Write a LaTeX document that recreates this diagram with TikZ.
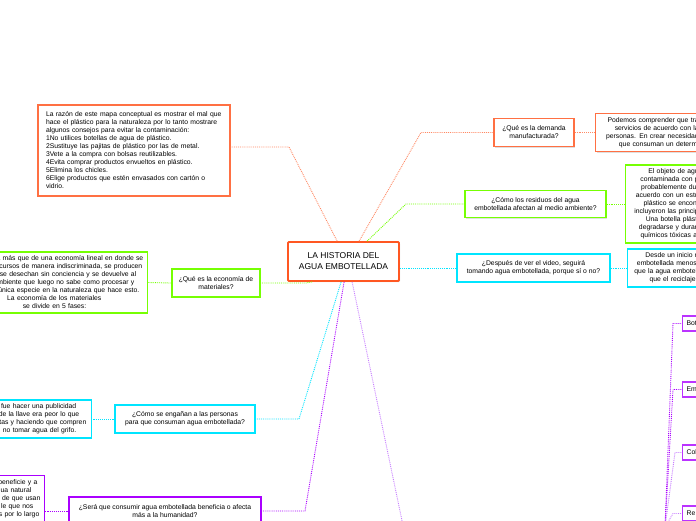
\documentclass[tikz,border=0pt]{standalone}
\usepackage{fontspec}
\setmainfont{Liberation Sans}
\usepackage{tikz}
\usetikzlibrary{shadows,calc}
\definecolor{mapred}{HTML}{FF5722}
\definecolor{maporange}{HTML}{FF7043}
\definecolor{maporangeline}{HTML}{FF8A65}
\definecolor{mapgreen}{HTML}{76FF03}
\definecolor{mapcyan}{HTML}{00E5FF}
\definecolor{mapviolet}{HTML}{AA00FF}
\definecolor{maplilac}{HTML}{C77DFF}
% keeps a fixed gap after a line in a right-aligned note
\newcommand{\trailpad}[1]{\hspace{#1}\mbox{}}
\tikzset{
  mapbox/.style={draw, fill=white, line width=1.4pt, inner sep=4pt, font=\fontsize{6.8}{8}\selectfont, drop shadow={shadow xshift=1pt, shadow yshift=-1pt, opacity=0.25}},
  rootbox/.style={mapbox, draw=mapred, line width=1.8pt, rounded corners=1pt, align=center, minimum width=111pt, minimum height=39pt, font=\fontsize{8.5}{11}\selectfont},
  topicbox/.style={mapbox, align=center, minimum height=28pt},
  rightnote/.style={mapbox, anchor=west, align=right},
  leftnote/.style={mapbox, anchor=east, align=right},
  phasebox/.style={mapbox, draw=mapviolet!80, line width=1.2pt, anchor=west, text width=50pt, align=left, minimum height=15pt, inner xsep=4pt},
  link/.style={densely dotted, line width=0.9pt}
}

\begin{document}
\begin{tikzpicture}[x=1pt, y=-1pt]
  \clip (0,0) rectangle (696,520);
  \fill[white] (0,0) rectangle (696,520);

  % centre
  \node[rootbox] (historia) at (343.5,261.5) {LA HISTORIA DEL\\AGUA EMBOTELLADA};

  % upper branches
  \node[mapbox, draw=maporange, text width=176pt, minimum width=192pt, minimum height=91pt, align=left] (razon) at (134,150.5)
    {La razón de este mapa conceptual es mostrar el mal que\\
     hace el plástico para la naturaleza por lo tanto mostrare\\
     algunos consejos para evitar la contaminación:\\
     1No utilices botellas de agua de plástico.\\
     2Sustituye las pajitas de plástico por las de metal.\\
     3Vete a la compra con bolsas reutilizables.\\
     4Evita comprar productos envueltos en plástico.\\
     5Elimina los chicles.\\
     6Elige productos que estén envasados con cartón o\\
     vidrio.};
  \node[topicbox, draw=maporange, minimum width=80pt] (demanda) at (534,132.5) {¿Qué es la demanda\\manufacturada?};
  \node[rightnote, draw=maporange, text width=99pt, minimum height=38pt] (podemos) at (595,132.5)
    {\mbox{Podemos comprender que tra}\\\mbox{servicios de acuerdo con la}\\\mbox{personas. En crear necesidad}\\\mbox{que consuman un determi}};
  \node[topicbox, draw=mapgreen, minimum width=141pt, minimum height=27pt] (residuos) at (535.5,204) {¿Cómo los residuos del agua\\embotellada afectan al medio ambiente?};
  \node[rightnote, draw=mapgreen, text width=69pt, minimum height=78pt] (objeto) at (625,204)
    {\mbox{El objeto de agu}\\\mbox{contaminada con p}\\\mbox{probablemente dur}\\\mbox{acuerdo con un estu}\\\mbox{plástico se encont}\\\mbox{incluyeron las princip}\\\mbox{Una botella plásti}\\\mbox{degradarse y duran}\\\mbox{químicos tóxicas al}};
  \node[topicbox, draw=mapcyan, minimum width=153pt] (despues) at (533.5,268) {¿Después de ver el video, seguirá\\tomando agua embotellada, porque sí o no?};
  \node[rightnote, draw=mapcyan, text width=67pt, minimum height=38pt] (desde) at (627,268)
    {\mbox{Desde un inicio n}\\\mbox{embotellada menos}\trailpad{2pt}\\\mbox{que la agua embotell}\\\mbox{que el reciclaje}\trailpad{3pt}};

  % lower branches
  \node[topicbox, draw=mapgreen, minimum width=88pt] (economia) at (216,283) {¿Qué es la economía de\\materiales?};
  \node[leftnote, draw=mapgreen, text width=200pt, minimum height=61pt] (lineal) at (148,282.5)
    {la más que de una economía lineal en donde se\\
     cursos de manera indiscriminada, se producen\trailpad{1pt}\\
     e se desechan sin conciencia y se devuelve al\trailpad{7pt}\\
     mbiente que luego no sabe como procesar y\trailpad{9pt}\\
     única especie en la naturaleza que hace esto.\trailpad{4pt}\\
     La economía de los materiales\trailpad{42pt}\\
     se divide en 5 fases:\trailpad{57pt}};
  \node[topicbox, draw=mapcyan, minimum width=140pt] (engano) at (185,419) {¿Cómo se engañan a las personas\\para que consuman agua embotellada?};
  \node[leftnote, draw=mapcyan, text width=100pt, minimum height=38pt] (publicidad) at (92,419)
    {fue hacer una publicidad\trailpad{11pt}\\a de la llave era peor lo que\trailpad{8pt}\\tas y haciendo que compren\trailpad{1pt}\\no tomar agua del grifo.\trailpad{11pt}};
  \node[topicbox, draw=mapviolet, minimum width=192pt] (sera) at (165,511) {¿Será que consumir agua embotellada beneficia o afecta\\más a la humanidad?};
  \node[leftnote, anchor=north east, draw=mapviolet, text width=60pt] (beneficie) at (45,475)
    {beneficie y a\trailpad{3pt}\\ua natural\trailpad{9pt}\\e de que usan\\le que nos\trailpad{7pt}\\s por lo largo\trailpad{1pt}};

  % phases on the right
  \foreach \nm/\txt/\yy in {fbot/Bot/323.5, fem/Em/389.5, fcol/Col/452.5, fre/Re/513.5}
    \node[phasebox] (\nm) at (682,\yy) {\txt};

  % connectors
  \draw[link, maporangeline] ([xshift=50pt]historia.north west) -- (289,147) -- ([yshift=3.5pt]razon.east);
  \draw[link, maporangeline] ([xshift=72pt]historia.north west) -- (421,132.5) -- (demanda.west);
  \draw[link, maporangeline] (demanda.east) -- (podemos.west);
  \draw[link, mapgreen] ([xshift=80pt]historia.north west) -- (406,204) -- (residuos.west);
  \draw[link, mapgreen] (residuos.east) -- (objeto.west);
  \draw[link, mapcyan] (historia.east |- despues.west) -- (despues.west);
  \draw[link, mapcyan] (despues.east) -- (desde.west);
  \draw[link, mapgreen] ([xshift=25pt]historia.south west) -- (306,283) -- (economia.east);
  \draw[link, mapgreen] (economia.west) -- (lineal.east);
  \draw[link, mapcyan] ([xshift=54pt]historia.south west) -- (299,419) -- (engano.east);
  \draw[link, mapcyan] (engano.west) -- (publicidad.east);
  \draw[link, mapviolet] ([xshift=57pt]historia.south west) -- (305,511) -- (sera.east);
  \draw[link, mapviolet] (sera.west) -- (sera.west -| beneficie.east);
  \coordinate (fasesIn) at (405,535);
  \draw[link, maplilac] ([xshift=65pt]historia.south west) -- (fasesIn);
  \coordinate (fasesHub) at (665,527);
  \draw[link, mapviolet] (fasesHub) -- (673,323.5) -- (fbot.west);
  \draw[link, mapviolet] (fasesHub) -- (673,389.5) -- (fem.west);
  \draw[link, maplilac] (fasesHub) -- (675,452.5) -- (fcol.west);
  \draw[link, maplilac] (fasesHub) -- (673,513.5) -- (fre.west);
\end{tikzpicture}
\end{document}
